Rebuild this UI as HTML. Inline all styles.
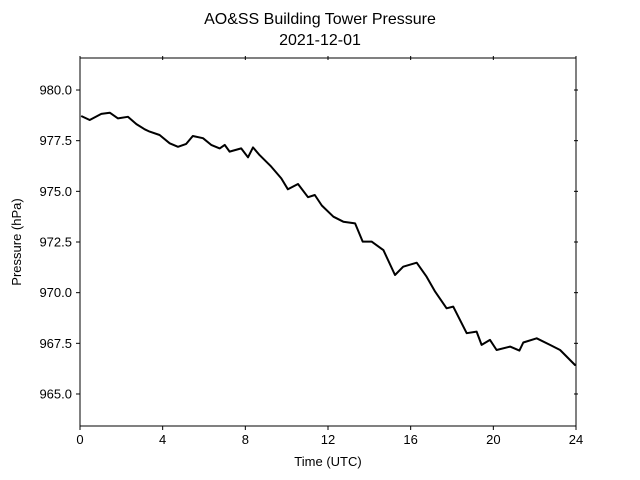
<!DOCTYPE html>
<html><head><meta charset="utf-8"><style>
html,body{margin:0;padding:0;background:#fff;}
svg{display:block;font-family:"Liberation Sans","DejaVu Sans",sans-serif;}
</style></head><body>
<svg id="chart" width="640" height="480" viewBox="0 0 640 480">
<text x="320" y="24" text-anchor="middle" font-size="16">AO&amp;SS Building Tower Pressure</text>
<text x="320" y="45" text-anchor="middle" font-size="16">2021-12-01</text>
<g id="plot"></g>
<rect x="80" y="58" width="496" height="368" fill="none" stroke="#000" stroke-width="1"/>
<text x="328" y="466" text-anchor="middle" font-size="13">Time (UTC)</text>
<text transform="translate(21,242) rotate(-90)" text-anchor="middle" font-size="13">Pressure (hPa)</text>
</svg>
<script>
const times=[0.06,0.47,1.03,1.44,1.84,2.32,2.73,3.13,3.37,3.85,4.34,4.74,5.14,5.46,5.95,6.35,6.76,7.0,7.24,7.8,8.13,8.37,8.69,9.25,9.74,10.06,10.55,11.03,11.36,11.7,12.26,12.74,13.31,13.68,14.11,14.68,15.24,15.64,16.29,16.77,17.18,17.74,18.06,18.71,19.19,19.43,19.84,20.16,20.81,21.26,21.45,22.1,22.74,23.23,23.95,24.0];
const pressure=[978.72,978.52,978.82,978.88,978.6,978.68,978.32,978.06,977.95,977.78,977.37,977.2,977.34,977.73,977.62,977.29,977.12,977.29,976.96,977.12,976.68,977.17,976.79,976.22,975.64,975.1,975.36,974.71,974.82,974.3,973.75,973.5,973.42,972.52,972.52,972.1,970.87,971.28,971.48,970.79,970.05,969.23,969.31,968.0,968.08,967.42,967.67,967.17,967.34,967.14,967.54,967.75,967.42,967.17,966.43,966.45];
const xTicks=[0,4,8,12,16,20,24];
const yTicks=[965.0,967.5,970.0,972.5,975.0,977.5,980.0];
const x0=80,x1=576,y0=426,y1=58,tMin=0,tMax=24,pMin=963.42,pMax=981.58;
const sx=t=>x0+(t-tMin)/(tMax-tMin)*(x1-x0);
const sy=p=>y0-(p-pMin)/(pMax-pMin)*(y0-y1);
const NS="http://www.w3.org/2000/svg";
const g=document.getElementById('plot');
function mk(tag,attrs){const e=document.createElementNS(NS,tag);for(const k in attrs)e.setAttribute(k,attrs[k]);g.appendChild(e);return e;}
xTicks.forEach(t=>{
  const b=mk('line',{x1:sx(t),x2:sx(t),y1:y0,y2:y0+4,stroke:'#000'});
  
  
  const tp=mk('line',{x1:sx(t),x2:sx(t),y1:y1-2,y2:y1+2,stroke:'#000'});
  
  
  const l=mk('text',{x:sx(t),y:y0+18,'text-anchor':'middle','font-size':'13'});
  l.textContent=String(t);
  
  
});
yTicks.forEach(v=>{
  const a=mk('line',{x1:x0-4,x2:x0,y1:sy(v),y2:sy(v),stroke:'#000'});
  
  
  const r=mk('line',{x1:x1-2,x2:x1+2,y1:sy(v),y2:sy(v),stroke:'#000'});
  
  
  const l=mk('text',{x:x0-8,y:sy(v)+4.5,'text-anchor':'end','font-size':'13'});
  l.textContent=v.toFixed(1);
  
  
});
const pts=times.map((t,i)=>sx(t).toFixed(1)+','+sy(pressure[i]).toFixed(1)).join(' ');
const line=mk('polyline',{points:pts,fill:'none',stroke:'#000','stroke-width':'2','stroke-linejoin':'round'});


</script>
</body></html>
